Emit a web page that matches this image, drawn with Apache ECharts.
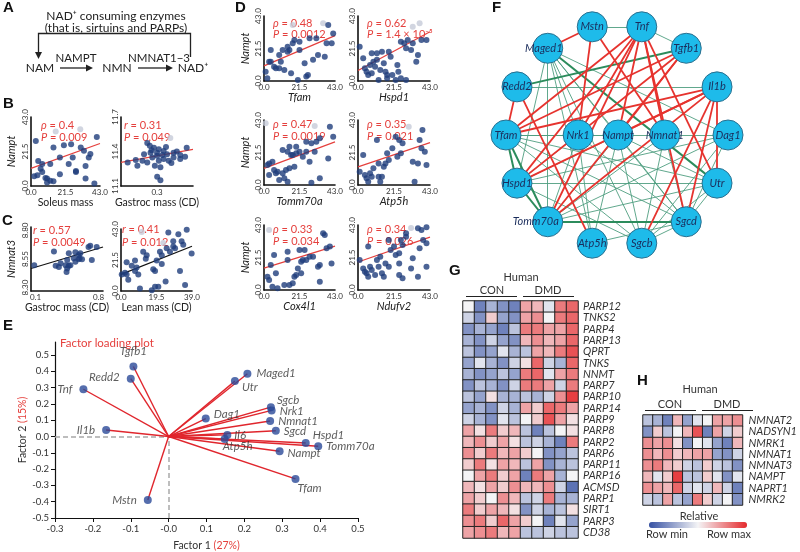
<!DOCTYPE html>
<html><head><meta charset="utf-8">
<script src="https://cdn.jsdelivr.net/npm/echarts@6/dist/echarts.min.js"></script>
<style>html,body{margin:0;background:#fff}#c{width:800px;height:552px}</style>
</head><body><div id="c"></div>
<script>
const FF = 'Lato, "Noto Sans", "DejaVu Sans", sans-serif';
// ---------------- DATA ----------------
// Panel B
const b1Points = [[3,28],[41,30.5],[20.5,25.4],[31,24],[37,20],[36,17.7],[14,24],[25,26],[18,17.7],[12,13.7],[23.5,13.7],[26,17.7],[7,13.7],[4.5,15.6],[6,10.7],[28,9.3],[34,12.5],[18,7.3],[2,6],[4,6.7],[7,8.7],[10,4.7],[12,3.2],[14,3],[10,2.2],[28,8.7],[34,4.7],[39.5,1.6],[9,5],[33,22]];
const b1Gray = [[15.4,34],[30.7,35.3]];
const b1Fit = [[0,11],[43,26.5]];
const b2Points = [[0.246,11.474],[0.283,11.432],[0.31,11.419],[0.337,11.404],[0.264,11.39],[0.228,11.376],[0.301,11.362],[0.356,11.376],[0.392,11.39],[0.429,11.37],[0.465,11.432],[0.429,11.334],[0.337,11.334],[0.31,11.32],[0.274,11.348],[0.219,11.32],[0.182,11.326],[0.137,11.305],[0.191,11.277],[0.246,11.305],[0.365,11.32],[0.392,11.348],[0.456,11.354],[0.319,11.263],[0.288,11.277],[0.301,11.18],[0.319,11.15],[0.26,11.45],[0.35,11.44],[0.41,11.40],[0.3,11.39],[0.33,11.37],[0.27,11.41],[0.38,11.30]];
const b2Gray = [[0.374,11.517]];
const b2Fit = [[0.1,11.305],[0.5,11.418]];
// Panel C
const c1Points = [[0.086,8.496],[0.305,8.615],[0.434,8.496],[0.47,8.49],[0.324,8.49],[0.36,8.481],[0.379,8.512],[0.452,8.467],[0.488,8.496],[0.445,8.437],[0.452,8.541],[0.525,8.556],[0.543,8.526],[0.579,8.547],[0.598,8.60],[0.59,8.556],[0.617,8.547],[0.579,8.586],[0.689,8.654],[0.708,8.666],[0.78,8.654],[0.726,8.541],[0.543,8.61],[0.47,8.60]];
const c1Fit = [[0.05,8.467],[0.85,8.655]];
const c2Points = [[26,40.6],[28.7,34.5],[31.5,39.4],[36.1,42.5],[33.3,34.5],[34.2,32.1],[28.7,30.8],[29.7,29.7],[25.1,29.7],[26.9,27.2],[21.4,27.2],[22.4,24.8],[14.1,24.8],[13.6,22.4],[12.2,27.2],[7.7,21.1],[5.9,17.5],[3.1,19.9],[2.2,12.6],[0.4,11.4],[3.1,11.4],[4,7.8],[8.6,16.3],[7.7,13.8],[9.5,11.4],[10.4,1.7],[16.9,0.5],[18.7,2.9],[20.5,2.9],[17.7,15.1],[18.7,13.8],[24.5,6.6],[32.4,13.8],[35.2,4.2],[38.8,26],[22.4,18.7],[19.6,21.1]];
const c2Gray = [[11.4,41],[23.2,33.3]];
const c2Fit = [[0,11.5],[39,31]];
// Panel D (x: gene, y: Nampt)
const d1Points = [[38.9,37],[41.9,31.5],[37.9,24.9],[41,24.9],[31.7,28.2],[27.6,28.2],[21.5,26],[18.4,27.1],[14.3,22.7],[14.3,19.4],[15.4,20.5],[11.3,20.5],[9.2,17.2],[4.1,20.5],[4.1,12.8],[3.1,12.8],[6.1,9.5],[7.2,8.4],[9.2,8.4],[12.3,7.3],[10.2,12.8],[1,6.2],[2,1.8],[16.4,5.1],[20.5,0.7],[25.6,2.9],[26.6,4],[24.6,11.7],[29.7,14],[32.7,17.2],[36.8,16.1],[21.5,20.5],[17.4,24.9]];
const d1Gray = [[17.4,37],[35.8,38.2]];
const d1Fit = [[0,10],[43,30]];
const d2Points = [[1,22.7],[3.1,15],[4.1,8.4],[5.1,6.2],[6.1,4],[7.2,10.6],[8.2,18.3],[9.2,12.8],[11.3,14],[10.2,9.5],[8.2,5.1],[13.3,7.3],[12.3,0.7],[15.4,11.7],[16.4,6.2],[17.4,4],[14.3,19.4],[11.3,18.3],[18.4,19.4],[19.5,16.1],[17.4,1.8],[20.5,4],[22.5,0.7],[24.1,6.2],[25.6,26],[27.6,24.9],[29.7,27.1],[28.7,21.6],[32.7,24.9],[31.7,20.5],[37.9,27.1],[40.9,27.1],[35.8,17.2],[23.5,10.6],[28.7,0.7],[25.6,1.8],[34.8,12.8]];
const d2Gray = [[36.8,38.2],[32.7,35.9]];
const d2Fit = [[0,7],[43,32.6]];
const d3Points = [[2.1,13.2],[3.1,14.3],[5.1,15.4],[16.4,19.8],[19.5,21],[21.5,22],[23.5,18.7],[27.6,15.4],[30.7,22],[38.9,17.6],[3.1,6.6],[6.1,9.9],[7.2,7.7],[8.2,8.8],[9.2,3.3],[11.3,7.7],[12.3,4.4],[13.3,9.9],[14.3,2.2],[15.4,11],[18.4,12.1],[28.7,1.5],[33.8,4.4],[39.9,38.6],[41.9,32],[31.7,28.6],[28.7,27.6],[25.6,28.6],[19.5,25.3],[15.4,25.3],[11.3,23.2],[14.3,22],[17.4,19.8],[25.6,22],[33.8,30.9]];
const d3Gray = [[1,40.8],[30.7,39]];
const d3Fit = [[0,11],[43,28.5]];
const d4Points = [[1,8.8],[3.1,19.8],[4.1,6.6],[5.1,4.4],[6.1,2.2],[7.2,7.7],[8.2,5.5],[9.2,11],[12.3,5.5],[13.3,2.2],[14.3,5.5],[15.4,12.1],[16.4,14.3],[18.4,16.5],[20.5,24.3],[22.5,32],[24.6,29.8],[26.6,27.6],[11.3,29.8],[12.3,14.3],[17.4,21],[23.5,18.7],[38.5,36.4],[36.8,29.8],[37.9,24.3],[39.9,22],[32.7,15.4],[35.8,14.3],[40.9,13.2],[33.8,2.2],[25.6,21]];
const d4Gray = [[30.3,38.6]];
const d4Fit = [[0,12],[43,28]];
const d5Points = [[2.1,8.8],[3.1,6.6],[5.1,2.2],[8.2,1.1],[4.1,16.5],[7.2,11],[6.1,23.2],[12.3,3.3],[14.3,19.8],[15.4,3.3],[17.4,4.4],[18.4,8.8],[19.5,9.9],[20.5,14.3],[21.5,26.5],[22.5,18.7],[22.5,11],[23.5,19.8],[24.6,26.5],[25.6,19.8],[27.6,22],[29.7,22],[32.7,15.4],[33.8,16.5],[33.8,5.5],[35.8,37.5],[36.8,36.4],[37.9,27.6],[39.9,28.7],[40.9,17.6],[14.3,25.3]];
const d5Gray = [[3.1,39.7]];
const d5Fit = [[0,14.5],[43,29]];
const d6Points = [[1,19.8],[3.1,14.3],[4.1,12.1],[5.1,11],[6.1,28.7],[6.1,8.8],[7.2,15.4],[8.2,13.2],[10.2,9.9],[11.3,19.8],[12.3,15.4],[13.3,22],[14.3,11],[15.4,8.8],[16.4,17.6],[18.4,15.4],[18.4,33.1],[19.5,26.5],[21.5,28.7],[22.5,23.2],[24.6,17.6],[25.6,33.1],[26.6,29.8],[28.7,37.5],[24.6,9.9],[40.9,41.5],[35.8,40.8],[37.9,39.7],[38.9,33.1],[40.9,30.9],[36.8,27.6],[32.7,21],[31.7,14.3],[35.8,8.8],[40.9,15.4],[28.7,35.3],[24.6,24.3],[26.6,7.7]];
const d6Gray = [[31.7,41]];
const d6Fit = [[0,18.5],[43,35]];
const massTicks = [0, 21.5, 43];
const leanTicks = [0, 19.5, 39];
// Panel E (factor loadings)
const eGenes = ['Tnf','Tgfb1','Redd2','Il1b','Mstn','Maged1','Utr','Dag1','Sgcb','Nrk1','Nmnat1','Sgcd','Il6','Atp5h','Hspd1','Tomm70a','Nampt','Tfam'];
const eFactor1 = [-0.225,-0.093,-0.1,-0.165,-0.055,0.208,0.175,0.098,0.27,0.272,0.268,0.283,0.155,0.148,0.362,0.395,0.293,0.335];
const eFactor2 = [0.29,0.43,0.355,0.04,-0.39,0.385,0.34,0.11,0.18,0.16,0.095,0.035,0.01,-0.015,-0.04,-0.06,-0.09,-0.26];
const eXTicks = [-0.3,-0.2,-0.1,0,0.1,0.2,0.3,0.4,0.5];
const eXTickLabels = ['-0.3','-0.2','-0.1','-0.0','0.1','0.2','0.3','0.4','0.5'];
const eYTicks = [-0.5,-0.4,-0.3,-0.2,-0.1,0,0.1,0.2,0.3,0.4,0.5];
const eYTickLabels = ['-0.5','-0.4','-0.3','-0.2','-0.1','0.0','0.1','0.2','0.3','0.4','0.5'];
// Panel F (network)
const fRingNodes = ['Dag1','Il1b','Tgfb1','Tnf','Mstn','Maged1','Redd2','Tfam','Hspd1','Tomm70a','Atp5h','Sgcb','Sgcd','Utr'];
const fRingAngles = [0,25.7,51.4,77.1,102.9,128.6,154.3,180,205.7,231.4,257.1,282.9,308.6,334.3];
const fInnerNodes = ['Nrk1','Nampt','Nmnat1'];
const fInnerX = [-0.35,0.01,0.43];
const fRedEdges = [['Mstn','Maged1'],['Mstn','Nrk1'],['Mstn','Nmnat1'],['Redd2','Tfam'],['Redd2','Atp5h'],['Tfam','Tnf'],['Tfam','Tgfb1'],['Tfam','Il1b'],['Hspd1','Tnf'],['Hspd1','Tgfb1'],['Hspd1','Il1b'],['Tomm70a','Tnf'],['Tomm70a','Tgfb1'],['Tomm70a','Il1b'],['Tnf','Nrk1'],['Tnf','Nampt'],['Tnf','Nmnat1'],['Tnf','Sgcd'],['Tnf','Utr'],['Tgfb1','Nampt'],['Il1b','Nampt'],['Il1b','Sgcd'],['Il1b','Sgcb'],['Il1b','Utr']];
const fGreenThickEdges = [['Tfam','Hspd1'],['Hspd1','Tomm70a'],['Tomm70a','Sgcd'],['Redd2','Tgfb1'],['Maged1','Utr'],['Tfam','Tomm70a']];
const fGreenEdges = [['Maged1','Hspd1'],['Maged1','Tomm70a'],['Maged1','Atp5h'],['Maged1','Sgcb'],['Maged1','Sgcd'],['Maged1','Nampt'],['Maged1','Nrk1'],['Maged1','Dag1'],['Redd2','Il1b'],['Tfam','Nrk1'],['Tfam','Dag1'],['Tfam','Sgcb'],['Tfam','Sgcd'],['Tfam','Utr'],['Hspd1','Nrk1'],['Hspd1','Nampt'],['Hspd1','Dag1'],['Hspd1','Utr'],['Hspd1','Sgcb'],['Tomm70a','Nampt'],['Tomm70a','Nrk1'],['Tomm70a','Nmnat1'],['Tomm70a','Utr'],['Tomm70a','Dag1'],['Atp5h','Nrk1'],['Atp5h','Nampt'],['Atp5h','Sgcd'],['Nampt','Sgcb'],['Nampt','Sgcd'],['Nampt','Utr'],['Nmnat1','Sgcb'],['Nmnat1','Sgcd'],['Nrk1','Sgcd'],['Sgcb','Sgcd'],['Sgcb','Utr'],['Sgcb','Dag1'],['Sgcd','Utr'],['Sgcd','Dag1'],['Tnf','Tgfb1'],['Mstn','Tnf'],['Tfam','Nampt']];
// Panel G (heatmap, 0 = row min, 1 = row max)
const gSamples = ['CON1','CON2','CON3','CON4','CON5','DMD1','DMD2','DMD3','DMD4','DMD5'];
const gGenes = ['PARP12','TNKS2','PARP4','PARP13','QPRT','TNKS','NNMT','PARP7','PARP10','PARP14','PARP9','PARP8','PARP2','PARP6','PARP11','PARP16','ACMSD','PARP1','SIRT1','PARP3','CD38'];
const gValues = [
[0.5,0.15,0.3,0.2,0.15,0.7,0.65,0.45,0.8,0.85],
[0.4,0.2,0.6,0.25,0.2,0.7,0.75,0.5,0.8,0.85],
[0.2,0.3,0.25,0.15,0.35,0.8,0.8,0.7,0.7,0.85],
[0.3,0.2,0.4,0.25,0.2,0.65,0.75,0.65,0.7,0.85],
[0.35,0.2,0.25,0.45,0.3,0.35,0.7,0.65,0.8,0.9],
[0.25,0.45,0.3,0.2,0.4,0.55,0.85,0.4,0.3,0.85],
[0.3,0.2,0.25,0.35,0.25,0.8,0.85,0.45,0.7,0.8],
[0.2,0.35,0.3,0.2,0.4,0.8,0.8,0.7,0.4,0.8],
[0.35,0.25,0.55,0.3,0.3,0.35,0.3,0.4,0.75,0.95],
[0.25,0.3,0.2,0.4,0.3,0.7,0.6,0.85,0.8,0.7],
[0.4,0.3,0.2,0.45,0.35,0.5,0.6,0.9,0.7,0.55],
[0.7,0.55,0.8,0.6,0.65,0.35,0.15,0.35,0.5,0.55],
[0.65,0.75,0.6,0.7,0.55,0.35,0.4,0.3,0.15,0.8],
[0.75,0.6,0.8,0.65,0.7,0.6,0.5,0.2,0.25,0.35],
[0.6,0.8,0.55,0.7,0.65,0.35,0.7,0.2,0.3,0.35],
[0.5,0.7,0.8,0.6,0.7,0.15,0.8,0.7,0.3,0.5],
[0.65,0.55,0.7,0.6,0.75,0.65,0.65,0.75,0.4,0.1],
[0.7,0.6,0.5,0.75,0.65,0.35,0.4,0.8,0.3,0.3],
[0.8,0.6,0.7,0.65,0.55,0.2,0.4,0.3,0.35,0.55],
[0.75,0.8,0.6,0.85,0.7,0.6,0.5,0.15,0.45,0.25],
[0.7,0.75,0.8,0.65,0.7,0.35,0.35,0.4,0.35,0.35]];
// Panel H
const hGenes = ['NMNAT2','NADSYN1','NMRK1','NMNAT1','NMNAT3','NAMPT','NAPRT1','NMRK2'];
const hValues = [
[0.35,0.3,0.15,0.65,0.25,0.45,0.5,0.7,0.7,0.75],
[0.2,0.6,0.35,0.5,0.65,0.9,0.15,0.7,0.4,0.6],
[0.75,0.7,0.75,0.55,0.2,0.5,0.45,0.25,0.15,0.65],
[0.75,0.65,0.75,0.6,0.65,0.7,0.7,0.25,0.2,0.4],
[0.75,0.8,0.65,0.6,0.4,0.35,0.6,0.4,0.35,0.2],
[0.65,0.45,0.6,0.95,0.35,0.35,0.6,0.45,0.2,0.45],
[0.75,0.7,0.65,0.85,0.4,0.45,0.4,0.65,0.4,0.15],
[0.4,0.35,0.7,0.35,0.25,0.8,0.6,0.4,0.5,0.2]];

// ---------------- STYLE / LAYOUT ----------------
const RED = '#e5403d', NAVY = '#1f3d7c', GRAY = '#c5cad8';
const grids = [
  {left:31,top:117,width:69,height:69},   // B1
  {left:121,top:117,width:72,height:69},  // B2
  {left:31,top:227,width:72,height:64},   // C1
  {left:121,top:229,width:71,height:62},  // C2
  {left:264,top:16,width:71,height:65},   // D1
  {left:358,top:16,width:72,height:65},   // D2
  {left:264,top:120,width:71,height:65},  // D3
  {left:358,top:120,width:72,height:65},  // D4
  {left:264,top:225,width:71,height:65},  // D5
  {left:358,top:225,width:72,height:65},  // D6
  {left:55,top:342,width:303,height:177}, // E
  {left:506,top:24,width:222,height:222}, // F
  {left:463,top:301,width:115,height:237},// G
  {left:643,top:415,width:110,height:90}  // H
];
const panels = [
  {pts:b1Points,gray:b1Gray,fit:b1Fit,fc:RED,x:[0,43,massTicks,1],y:[0,43,massTicks,1],xn:'Soleus mass',yn:'Nampt',it:false},
  {pts:b2Points,gray:b2Gray,fit:b2Fit,fc:RED,x:[0.1,0.5,[0.3],1],y:[11.1,11.7,[11.1,11.4,11.7],1],xn:'Gastroc mass (CD)',yn:'',it:false},
  {pts:c1Points,gray:null,fit:c1Fit,fc:'#111',x:[0.05,0.85,[0.1,0.8],1],y:[8.27,8.83,[8.3,8.55,8.8],2],xn:'Gastroc mass (CD)',yn:'Nmnat3',it:false},
  {pts:c2Points,gray:c2Gray,fit:c2Fit,fc:'#111',x:[0,39,leanTicks,1],y:[0,43,massTicks,1],xn:'Lean mass (CD)',yn:'',it:false},
  {pts:d1Points,gray:d1Gray,fit:d1Fit,fc:RED,x:[0,43,massTicks,1],y:[0,43,massTicks,1],xn:'Tfam',yn:'Nampt',it:true},
  {pts:d2Points,gray:d2Gray,fit:d2Fit,fc:RED,x:[0,43,massTicks,1],y:[0,43,massTicks,1],xn:'Hspd1',yn:'',it:true},
  {pts:d3Points,gray:d3Gray,fit:d3Fit,fc:RED,x:[0,43,massTicks,1],y:[0,43,massTicks,1],xn:'Tomm70a',yn:'Nampt',it:true},
  {pts:d4Points,gray:d4Gray,fit:d4Fit,fc:RED,x:[0,43,massTicks,1],y:[0,43,massTicks,1],xn:'Atp5h',yn:'',it:true},
  {pts:d5Points,gray:d5Gray,fit:d5Fit,fc:RED,x:[0,43,massTicks,1],y:[0,43,massTicks,1],xn:'Cox4l1',yn:'Nampt',it:true},
  {pts:d6Points,gray:d6Gray,fit:d6Fit,fc:RED,x:[0,43,massTicks,1],y:[0,43,massTicks,1],xn:'Ndufv2',yn:'',it:true}
];
const xAxes = [], yAxes = [], series = [];
const axLine = {show:true,onZero:false,lineStyle:{color:'#111',width:1.6}};
panels.forEach((p,i)=>{
  xAxes.push({type:'value',gridIndex:i,min:p.x[0],max:p.x[1],axisLine:axLine,axisTick:{show:false},splitLine:{show:false},
    axisLabel:{customValues:p.x[2],formatter:v=>Number(v).toFixed(p.x[3]),fontSize:8,color:'#333',margin:2,fontFamily:FF},
    name:p.xn,nameLocation:'middle',nameGap:i<4?11:10,nameTextStyle:{fontSize:i<4?10.5:11,color:'#222',fontStyle:p.it?'italic':'normal',fontFamily:FF}});
  yAxes.push({type:'value',gridIndex:i,min:p.y[0],max:p.y[1],axisLine:axLine,axisTick:{show:false},splitLine:{show:false},
    axisLabel:{customValues:p.y[2],formatter:v=>Number(v).toFixed(p.y[3]),fontSize:8,color:'#333',margin:2,rotate:90,fontFamily:FF},
    name:p.yn,nameLocation:'middle',nameGap:i<4?14:13,nameRotate:90,nameTextStyle:{fontSize:11,color:'#222',fontStyle:'italic',fontFamily:FF}});
  series.push({type:'line',xAxisIndex:i,yAxisIndex:i,data:p.fit,symbol:'none',silent:true,lineStyle:{color:p.fc,width:1.2},z:2});
  if (p.gray) series.push({type:'scatter',xAxisIndex:i,yAxisIndex:i,data:p.gray,symbolSize:6,itemStyle:{color:GRAY},z:1,silent:true});
  series.push({type:'scatter',xAxisIndex:i,yAxisIndex:i,data:p.pts,symbolSize:6,itemStyle:{color:NAVY},z:3,silent:true});
});
// Panel E axes
const lookup = (ticks, labels) => v => { const k = ticks.findIndex(t=>Math.abs(t-v)<1e-6); return k<0?'':labels[k]; };
xAxes.push({type:'value',gridIndex:10,min:-0.3,max:0.5,axisLine:{show:true,onZero:false,lineStyle:{color:'#111',width:1.2}},
  axisTick:{show:true,customValues:eXTicks,length:4,lineStyle:{color:'#111'}},splitLine:{show:false},
  axisLabel:{customValues:eXTicks,formatter:lookup(eXTicks,eXTickLabels),fontSize:9.5,color:'#333',margin:6,fontFamily:FF},
  name:'Factor 1 {r|(27%)}',nameLocation:'middle',nameGap:22,nameTextStyle:{fontSize:10.5,color:'#333',fontFamily:FF,rich:{r:{color:RED,fontSize:10.5,fontFamily:FF}}}});
yAxes.push({type:'value',gridIndex:10,min:-0.5,max:0.58,axisLine:{show:true,onZero:false,lineStyle:{color:'#111',width:1.2}},
  axisTick:{show:true,customValues:eYTicks,length:4,lineStyle:{color:'#111'}},splitLine:{show:false},
  axisLabel:{customValues:eYTicks,formatter:lookup(eYTicks,eYTickLabels),fontSize:9.5,color:'#333',margin:6,fontFamily:FF},
  name:'Factor 2 {r|(15%)}',nameLocation:'middle',nameGap:27,nameRotate:90,nameTextStyle:{fontSize:10.5,color:'#333',fontFamily:FF,rich:{r:{color:RED,fontSize:10.5,fontFamily:FF}}}});
series.push({type:'lines',coordinateSystem:'cartesian2d',xAxisIndex:10,yAxisIndex:10,silent:true,z:1,
  data:[{coords:[[-0.3,0],[0,0]]},{coords:[[0,-0.5],[0,0]]}],lineStyle:{color:'#a8a8a8',width:1.5,type:[5,3],opacity:1}});
series.push({type:'lines',coordinateSystem:'cartesian2d',xAxisIndex:10,yAxisIndex:10,silent:true,z:2,
  data:eGenes.map((g,i)=>({coords:[[0,0],[eFactor1[i],eFactor2[i]]]})),lineStyle:{color:'#e0262d',width:1.4,opacity:1}});
const eLabelPos = {Tnf:['left',[-3,0]],Tgfb1:['top',[0,-1]],Redd2:['left',[-3,-1]],Il1b:['left',[-3,0]],Mstn:['left',[-3,0]],
  Maged1:['right',[1,0]],Utr:['right',[-1,6]],Dag1:['right',[0,-4]],Sgcb:['right',[-2,-7]],Nrk1:['right',[0,1]],Nmnat1:['right',[0,0]],
  Sgcd:['right',[0,0]],Il6:['right',[-1,0]],Atp5h:['right',[-10,7]],Hspd1:['right',[-1,-8]],Tomm70a:['right',[0,0]],Nampt:['right',[0,2]],Tfam:['right',[-6,9]]};
series.push({type:'scatter',xAxisIndex:10,yAxisIndex:10,symbolSize:8,z:3,silent:true,itemStyle:{color:'#2a4a98'},
  label:{show:true,formatter:'{b}',fontStyle:'italic',fontSize:11.5,color:'#333',fontFamily:FF},
  data:eGenes.map((g,i)=>({name:g,value:[eFactor1[i],eFactor2[i]],label:{position:eLabelPos[g][0],offset:eLabelPos[g][1],distance:4}}))});
// Panel F axes & graph
xAxes.push({type:'value',gridIndex:11,min:-1,max:1,show:false});
yAxes.push({type:'value',gridIndex:11,min:-1,max:1,show:false});
const fNodes = fRingNodes.map((n,i)=>({name:n,value:[Math.cos(fRingAngles[i]*Math.PI/180),Math.sin(fRingAngles[i]*Math.PI/180)]}))
  .concat(fInnerNodes.map((n,i)=>({name:n,value:[fInnerX[i],0]})));
fNodes.forEach(n=>{ if(n.name==='Tomm70a') n.label={offset:[-12,0]}; if(n.name==='Maged1') n.label={offset:[-4,0]}; });
const fLinks = []
  .concat(fGreenEdges.map(e=>({source:e[0],target:e[1],lineStyle:{color:'#4f9e80',width:0.9}})))
  .concat(fGreenThickEdges.map(e=>({source:e[0],target:e[1],lineStyle:{color:'#2c8c5c',width:2}})))
  .concat(fRedEdges.map(e=>({source:e[0],target:e[1],lineStyle:{color:'#e6332e',width:1.8}})));
series.push({type:'graph',coordinateSystem:'cartesian2d',xAxisIndex:11,yAxisIndex:11,layout:'none',symbol:'circle',symbolSize:30,silent:true,
  itemStyle:{color:'#1ebbea',borderColor:'#2b6f8e',borderWidth:1},
  label:{show:true,position:'inside',formatter:'{b}',color:'#1b2d5c',fontStyle:'italic',fontSize:11,fontFamily:FF},
  lineStyle:{opacity:1,curveness:0},data:fNodes,links:fLinks});
// Panel G
xAxes.push({type:'category',gridIndex:12,data:gSamples,show:false});
yAxes.push({type:'category',gridIndex:12,data:gGenes,inverse:true,position:'right',axisLine:{show:false},axisTick:{show:false},
  axisLabel:{interval:0,fontSize:11,fontStyle:'italic',color:'#333',margin:5,fontFamily:FF}});
const gSeriesIndex = series.length;
series.push({type:'heatmap',xAxisIndex:12,yAxisIndex:12,silent:true,itemStyle:{borderColor:'#222',borderWidth:1},
  data:gValues.flatMap((row,r)=>row.map((v,c)=>[c,r,v]))});
// Panel H
xAxes.push({type:'category',gridIndex:13,data:gSamples,show:false});
yAxes.push({type:'category',gridIndex:13,data:hGenes,inverse:true,position:'right',axisLine:{show:false},axisTick:{show:false},
  axisLabel:{interval:0,fontSize:11,fontStyle:'italic',color:'#333',margin:6,fontFamily:FF}});
const hSeriesIndex = series.length;
series.push({type:'heatmap',xAxisIndex:13,yAxisIndex:13,silent:true,itemStyle:{borderColor:'#222',borderWidth:1},
  data:hValues.flatMap((row,r)=>row.map((v,c)=>[c,r,v]))});

// ---------------- TEXT / DECOR ----------------
function T(x,y,text,o){ const s=Object.assign({text,fill:'#222',fontSize:11,fontFamily:FF,align:'left',verticalAlign:'middle',textAlign:'left',textVerticalAlign:'middle'},o||{});
  if(s.align) s.textAlign=s.align; return {type:'text',x,y,silent:true,style:s}; }
const ital = {i:{fontStyle:'italic',fill:RED,fontSize:11,fontFamily:FF}};
function stat(x,y,sym,val){ return T(x,y,'{i|'+sym+'} = '+val,{fill:RED,fontSize:11,rich:ital}); }
const BL = {fontWeight:'bold',fontSize:15,fontFamily:'"Liberation Sans", Arial, sans-serif',fill:'#111'};
const graphic = [
  T(3,8,'A',BL),T(3,104,'B',BL),T(2,221,'C',BL),T(235,8,'D',BL),T(3,326,'E',BL),T(492,8,'F',BL),T(449,271,'G',BL),T(637,381,'H',BL),
  // Panel A
  T(116,16,'NAD⁺ consuming enzymes',{align:'center',fontSize:12}),
  T(116,28,'(that is, sirtuins and PARPs)',{align:'center',fontSize:12}),
  {type:'polyline',silent:true,shape:{points:[[38.5,53],[38.5,33.5],[190.5,33.5],[190.5,57]]},style:{stroke:'#222',lineWidth:1.3,fill:null}},
  {type:'polygon',silent:true,shape:{points:[[38.5,59],[35,52],[42,52]]},style:{fill:'#222'}},
  T(40,68,'NAM',{align:'center',fontSize:12}),
  T(76,58,'NAMPT',{align:'center',fontSize:11.5}),
  {type:'line',silent:true,shape:{x1:60,y1:68,x2:88,y2:68},style:{stroke:'#222',lineWidth:1.3}},
  {type:'polygon',silent:true,shape:{points:[[93,68],[86,64.5],[86,71.5]]},style:{fill:'#222'}},
  T(117,68,'NMN',{align:'center',fontSize:12}),
  T(159,58,'NMNAT1−3',{align:'center',fontSize:11.5}),
  {type:'line',silent:true,shape:{x1:138,y1:68,x2:167,y2:68},style:{stroke:'#222',lineWidth:1.3}},
  {type:'polygon',silent:true,shape:{points:[[173,68],[166,64.5],[166,71.5]]},style:{fill:'#222'}},
  T(193,68,'NAD⁺',{align:'center',fontSize:12}),
  // stats
  stat(41,125,'ρ','0.4'),stat(41,137,'P','0.009'),
  stat(124,125,'r','0.31'),stat(124,137,'P','0.049'),
  stat(33,230,'r','0.57'),stat(33,242,'P','0.0049'),
  stat(122,229,'r','0.41'),stat(122,242,'P','0.012'),
  stat(273,23,'ρ','0.48'),stat(273,34,'P','0.0012'),
  stat(367,23,'ρ','0.62'),stat(367,34,'P','1.4 × 10⁻⁵'),
  stat(273,124,'ρ','0.47'),stat(273,136,'P','0.0019'),
  stat(367,124,'ρ','0.35'),stat(367,136,'P','0.021'),
  stat(273,229,'ρ','0.33'),stat(273,241,'P','0.034'),
  stat(367,229,'ρ','0.34'),stat(367,241,'P','0.026'),
  // E title
  T(60,343,'Factor loading plot',{fill:RED,fontSize:11.5}),
  // G header
  T(521,277,'Human',{align:'center',fontSize:11,fill:'#333'}),
  T(492,290,'CON',{align:'center',fontSize:11,fill:'#333'}),
  T(548,290,'DMD',{align:'center',fontSize:11,fill:'#333'}),
  {type:'line',silent:true,shape:{x1:466,y1:296.5,x2:517,y2:296.5},style:{stroke:'#222',lineWidth:1.2}},
  {type:'line',silent:true,shape:{x1:523,y1:296.5,x2:574,y2:296.5},style:{stroke:'#222',lineWidth:1.2}},
  // H header
  T(700,389,'Human',{align:'center',fontSize:11,fill:'#333'}),
  T(670,404,'CON',{align:'center',fontSize:11,fill:'#333'}),
  T(727,404,'DMD',{align:'center',fontSize:11,fill:'#333'}),
  {type:'line',silent:true,shape:{x1:645,y1:410.5,x2:696,y2:410.5},style:{stroke:'#222',lineWidth:1.2}},
  {type:'line',silent:true,shape:{x1:702,y1:410.5,x2:753,y2:410.5},style:{stroke:'#222',lineWidth:1.2}},
  T(699,516,'Relative',{align:'center',fontSize:11,fill:'#333'}),
  T(667,534,'Row min',{align:'center',fontSize:11,fill:'#333'}),
  T(729,534,'Row max',{align:'center',fontSize:11,fill:'#333'})
];

const chart = echarts.init(document.getElementById('c'));
chart.setOption({
  animation:false,
  textStyle:{fontFamily:FF},
  grid:grids, xAxis:xAxes, yAxis:yAxes,
  visualMap:{type:'continuous',min:0,max:1,seriesIndex:[gSeriesIndex,hSeriesIndex],orient:'horizontal',left:649,top:522,
    itemWidth:6,itemHeight:98,padding:0,calculable:false,show:true,hoverLink:false,
    inRange:{color:['#3651a3','#f4f4f6','#e52a2d']}},
  series, graphic
});
</script></body></html>
